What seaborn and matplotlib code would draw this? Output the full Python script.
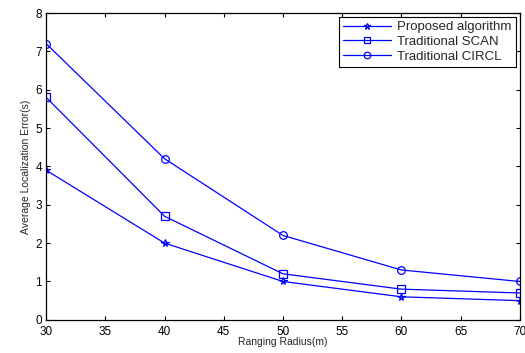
import pandas as pd
import matplotlib
matplotlib.use("Agg")
import matplotlib.pyplot as plt
import seaborn as sns

# Data
radius = [30, 40, 50, 60, 70]
proposed = [3.9, 2.0, 1.0, 0.6, 0.5]
scan = [5.8, 2.7, 1.2, 0.8, 0.7]
circl = [7.2, 4.2, 2.2, 1.3, 1.0]
series_names = ["Proposed algorithm", "Traditional SCAN", "Traditional CIRCL"]
x_ticks = [30, 35, 40, 45, 50, 55, 60, 65, 70]
y_ticks = [0, 1, 2, 3, 4, 5, 6, 7, 8]

rows = []
for name, vals in zip(series_names, [proposed, scan, circl]):
    for r, v in zip(radius, vals):
        rows.append({"radius": r, "error": v, "method": name})
df = pd.DataFrame(rows)

sns.set_style("white")
plt.rcParams["font.family"] = ["Liberation Sans", "DejaVu Sans"]
plt.rcParams["xtick.direction"] = "in"
plt.rcParams["ytick.direction"] = "in"

fig = plt.figure(figsize=(5.25, 3.53), dpi=100)
ax = fig.add_axes([0.088, 0.094, 0.902, 0.869])

sns.lineplot(
    data=df, x="radius", y="error", hue="method", style="method",
    markers={"Proposed algorithm": "*", "Traditional SCAN": "s", "Traditional CIRCL": "o"},
    dashes=False,
    palette={n: "#0000ff" for n in series_names},
    linewidth=0.9, markersize=5.5, markerfacecolor="none",
    markeredgecolor="#0000ff", markeredgewidth=0.9,
    ax=ax,
)

ax.set_xlim(30, 70)
ax.set_ylim(0, 8)
ax.set_xticks(x_ticks)
ax.set_yticks(y_ticks)
ax.tick_params(labelsize=8.5, length=3, width=0.8, top=True, right=True,
               bottom=True, left=True, colors="black")
ax.tick_params(axis="x", pad=4.5)
ax.tick_params(axis="y", pad=3)
for s in ax.spines.values():
    s.set_color("black")
    s.set_linewidth(0.9)
ax.set_xlabel("Ranging Radius(m)", fontsize=7.5, labelpad=-1)
ax.set_ylabel("Average Localization Error(s)", fontsize=7.5, labelpad=3)

leg = ax.legend(loc="upper right", fontsize=9.5, frameon=True, fancybox=False,
                edgecolor="black", framealpha=1, borderaxespad=0.3,
                handlelength=3.6, handletextpad=0.5, labelspacing=0.2,
                borderpad=0.3, markerscale=0.85)
leg.get_frame().set_linewidth(0.8)

fig.savefig("out.png", dpi=100)
